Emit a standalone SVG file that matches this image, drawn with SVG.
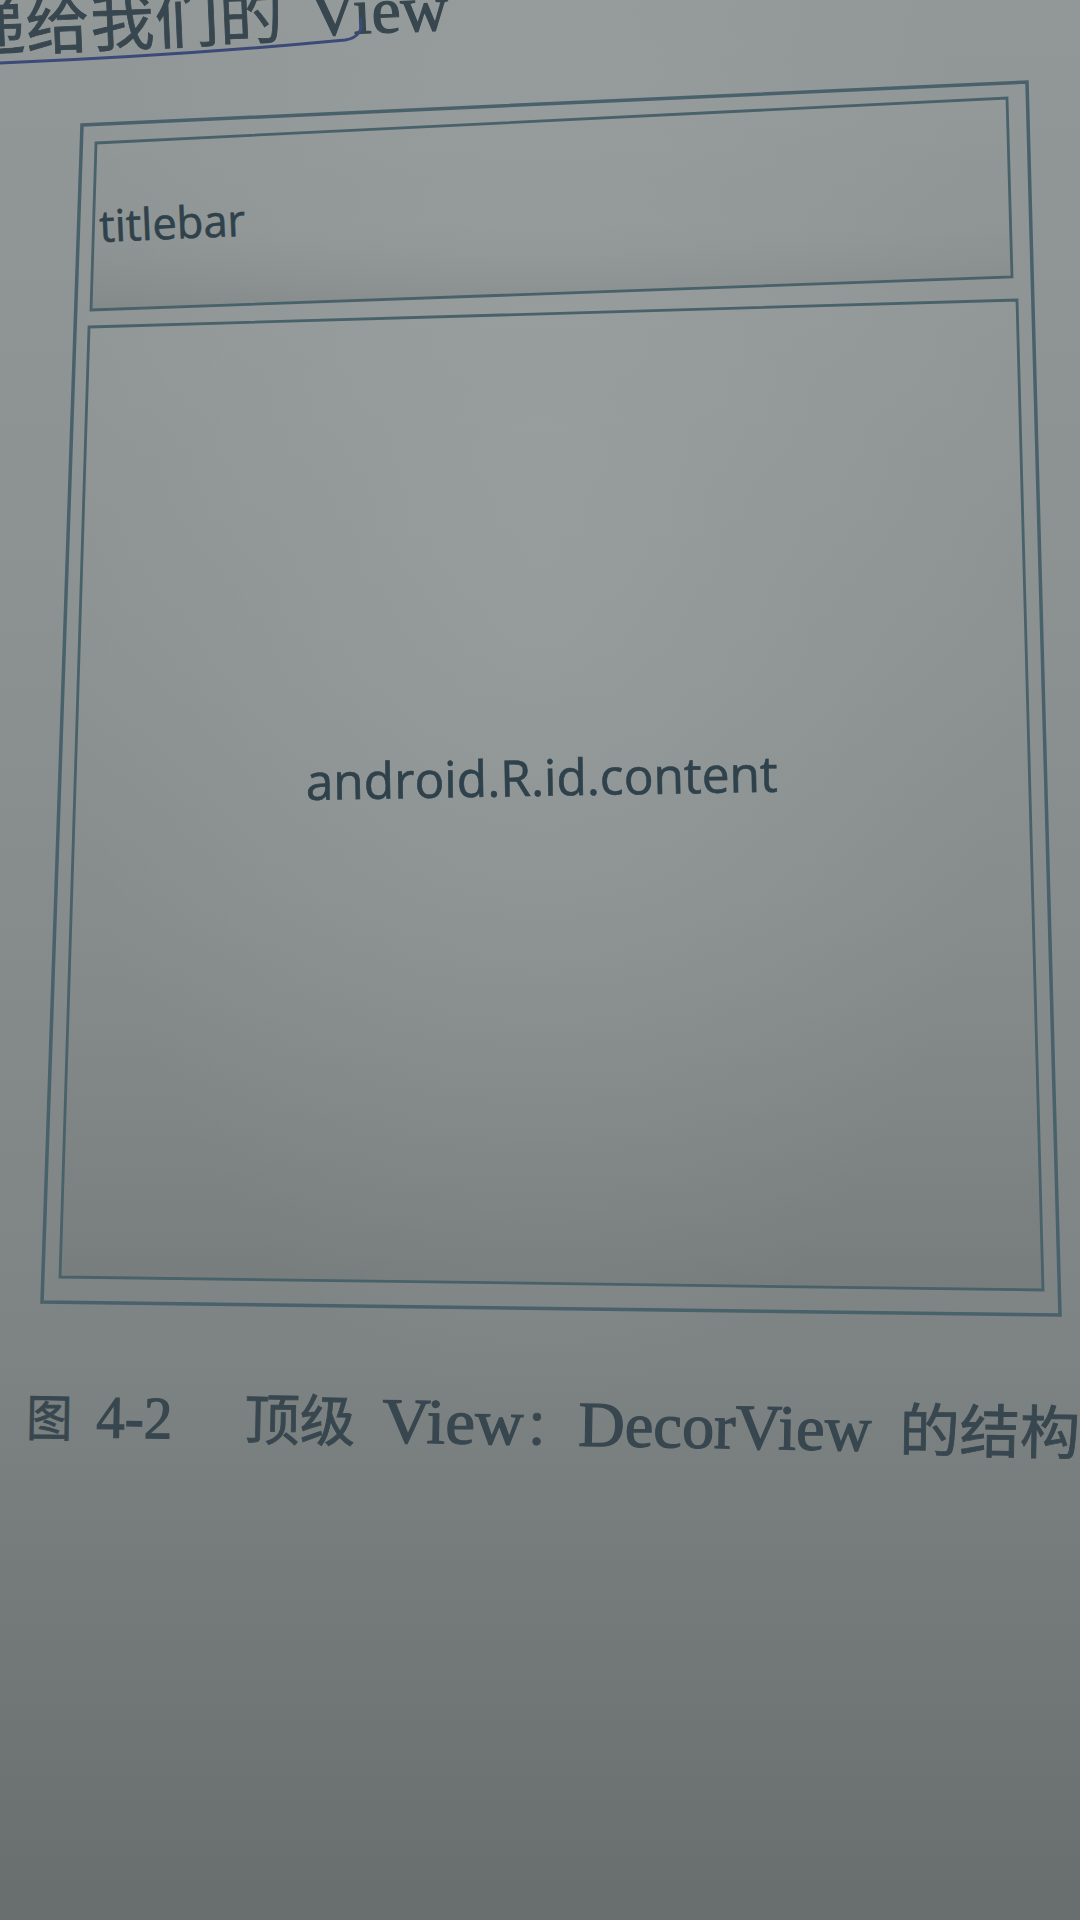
<svg xmlns="http://www.w3.org/2000/svg" width="1080" height="1920" viewBox="0 0 1080 1920">
<defs>
<linearGradient id="bg" x1="0" y1="0" x2="0" y2="1">
<stop offset="0" stop-color="#929897"/>
<stop offset="0.35" stop-color="#8b9190"/>
<stop offset="0.7" stop-color="#7e8483"/>
<stop offset="1" stop-color="#686d6d"/>
</linearGradient>
<radialGradient id="glow" cx="0.5" cy="0.28" r="0.45">
<stop offset="0" stop-color="#a4aaa9" stop-opacity="0.5"/>
<stop offset="1" stop-color="#a4aaa9" stop-opacity="0"/>
</radialGradient>
<linearGradient id="boxfill" x1="0" y1="0" x2="0" y2="1">
<stop offset="0" stop-color="#9aa09f" stop-opacity="0.25"/>
<stop offset="0.6" stop-color="#8a908f" stop-opacity="0.1"/>
<stop offset="1" stop-color="#5f6564" stop-opacity="0.25"/>
</linearGradient>
<style>
.frame{fill:none;stroke:#48616a;stroke-width:3.5;stroke-linejoin:miter}
.box{fill:url(#boxfill);stroke:#48616a;stroke-width:2.8;stroke-linejoin:miter}
.label{font-family:"Open Sans","Noto Sans",sans-serif;fill:#2f414b;stroke:#2f414b;stroke-width:0.6}
.cap{font-family:"Liberation Serif","Noto Sans CJK SC",serif;fill:#38474f;stroke:#38474f;stroke-width:1.2}
.cjk{font-family:"Noto Sans CJK SC","Liberation Serif",serif;fill:#38474f;stroke:#38474f;stroke-width:0.8}
</style>
</defs>
<rect width="1080" height="1920" fill="url(#bg)"/>
<rect width="1080" height="1920" fill="url(#glow)"/>

<g id="page-top-text">
<text class="cjk" x="-38" y="44" font-size="64" textLength="322" transform="rotate(-2.5 150 40)" fill="#3b4a66" stroke="#3b4a66">递给我们的</text>
<text class="cap" x="310" y="34" font-size="66" transform="rotate(-2.5 350 30)" fill="#3b4a72" stroke="#3b4a72">View</text>
<path d="M0,63 C120,58 240,50 345,40 C358,38 364,30 360,18" fill="none" stroke="#3b4a78" stroke-width="3"/>
</g>

<g id="decorview">
<polygon class="frame" points="82,125 1027,82 1060,1315 42,1302"/>
</g>

<g id="titlebar">
<polygon class="box" points="96,143 1007,98 1012,277 91,310"/>
<text class="label" x="100" y="242" font-size="44" textLength="146" lengthAdjust="spacingAndGlyphs" transform="rotate(-2.5 100 242)">titlebar</text>
</g>

<g id="content">
<polygon class="box" points="89,327 1017,300 1043,1290 60,1277"/>
<text class="label" x="306" y="800" font-size="50" textLength="472" lengthAdjust="spacingAndGlyphs" transform="rotate(-1 306 800)">android.R.id.content</text>
</g>

<g id="caption" transform="rotate(1 540 1445)">
<text class="cjk" x="26" y="1445" font-size="50" textLength="46" lengthAdjust="spacingAndGlyphs">图</text>
<text class="cap" x="96" y="1445" font-size="60" textLength="76" lengthAdjust="spacingAndGlyphs">4-2</text>
<text class="cjk" x="244" y="1445" font-size="56" textLength="111" lengthAdjust="spacingAndGlyphs">顶级</text>
<text class="cap" x="382" y="1445" font-size="64" textLength="141" lengthAdjust="spacingAndGlyphs">View</text>
<text class="cjk" x="524" y="1445" font-size="50">：</text>
<text class="cap" x="578" y="1445" font-size="64" textLength="293" lengthAdjust="spacingAndGlyphs">DecorView</text>
<text class="cjk" x="899" y="1445" font-size="58" textLength="181" lengthAdjust="spacingAndGlyphs">的结构</text>
</g>
</svg>
